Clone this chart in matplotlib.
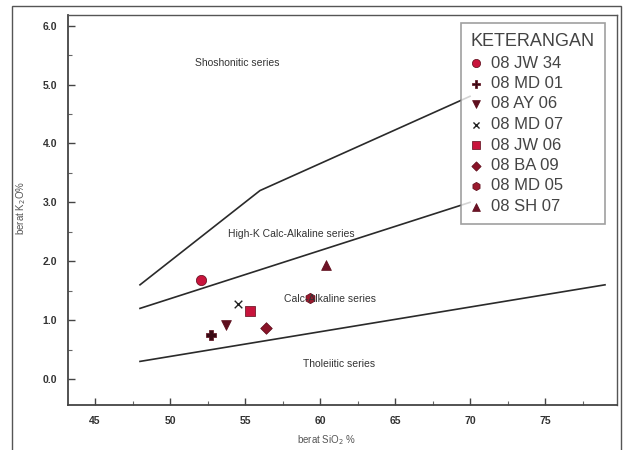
import matplotlib
matplotlib.use("Agg")
import matplotlib.pyplot as plt
from matplotlib.patches import Rectangle

plt.rcParams['font.family'] = ['Liberation Sans', 'DejaVu Sans']

# Boundary lines (Peccerillo & Taylor style)
sho_x = [48, 56, 70]
sho_y = [1.6, 3.2, 4.8]
hk_x = [48, 70]
hk_y = [1.2, 3.0]
th_x = [48, 79]
th_y = [0.3, 1.6]

# Samples
names = ["08 JW 34", "08 MD 01", "08 AY 06", "08 MD 07",
         "08 JW 06", "08 BA 09", "08 MD 05", "08 SH 07"]
sio2 = [52.05, 52.7, 53.75, 54.5, 55.35, 56.4, 59.35, 60.4]
k2o = [1.68, 0.75, 0.92, 1.28, 1.15, 0.87, 1.37, 1.93]
markers = ["o", "P", "v", "x", "s", "D", "h", "^"]
colors = ["#c8143c", "#3a0a14", "#5e0f1e", "#222222",
          "#c8143c", "#8a1328", "#9a1a2e", "#6e1226"]
sizes = [55, 50, 50, 30, 55, 35, 55, 50]

series_labels = ["Shoshonitic series", "High-K Calc-Alkaline series",
                 "Calc-Alkaline series", "Tholeiitic series"]
label_x = [54.5, 58.1, 60.7, 61.3]
label_y = [5.36, 2.47, 1.36, 0.25]

fig = plt.figure(figsize=(6.23, 4.5), dpi=100)
W, H = 623, 450
# outer frame
fig.patches.append(Rectangle((12 / W, -0.05), 609 / W, 1.05 - 6 / H,
                             transform=fig.transFigure, fill=False,
                             edgecolor="#555555", linewidth=1.0))

ax = fig.add_axes([68 / W, 45 / H, 549 / W, 390 / H])
ax.set_xlim(43.2, 79.8)
ax.set_ylim(-0.44, 6.18)

lc = "#2a2a2a"
ax.plot(sho_x, sho_y, color=lc, lw=1.2)
ax.plot(hk_x, hk_y, color=lc, lw=1.2)
ax.plot(th_x, th_y, color=lc, lw=1.2)

for n, x, y, m, c, s in zip(names, sio2, k2o, markers, colors, sizes):
    if m == "x":
        ax.scatter([x], [y], marker=m, color=c, s=s, linewidths=1.0,
                   label=n, zorder=3)
    else:
        ax.scatter([x], [y], marker=m, color=c, s=s, edgecolors="#5a0a18",
                   linewidths=0.5, label=n, zorder=3)

for t, x, y in zip(series_labels, label_x, label_y):
    ax.text(x, y, t, ha="center", va="center", fontsize=7.5, color="#333333")

ax.set_xticks([45, 50, 55, 60, 65, 70, 75])
ax.set_xticks([47.5, 52.5, 57.5, 62.5, 67.5, 72.5, 77.5], minor=True)
ax.set_yticks([0, 1, 2, 3, 4, 5, 6])
ax.set_yticks([0.5, 1.5, 2.5, 3.5, 4.5, 5.5], minor=True)
ax.set_yticklabels([f"{v:.1f}" for v in [0, 1, 2, 3, 4, 5, 6]])
ax.tick_params(which="major", direction="in", length=5, width=1.0,
               color="#444444", labelsize=7.5, labelcolor="#333333", pad=8)
ax.tick_params(which="minor", direction="in", length=3, width=0.8,
               color="#666666")
for lab in ax.get_xticklabels() + ax.get_yticklabels():
    lab.set_fontweight("bold")

for sp in ["left", "bottom"]:
    ax.spines[sp].set_linewidth(1.3)
    ax.spines[sp].set_color("#444444")
for sp in ["top", "right"]:
    ax.spines[sp].set_linewidth(1.0)
    ax.spines[sp].set_color("#555555")

fig.text(21 / W, 1 - 208 / H, "berat K$_2$O%", rotation=90, ha="center",
         va="center", fontsize=7, color="#555555")
fig.text(327 / W, 1 - 440 / H, "berat SiO$_2$ %", ha="center",
         va="center", fontsize=7, color="#555555")

leg = ax.legend(title="KETERANGAN", loc="upper left",
                bbox_to_anchor=((461 - 68) / 549, 1 - (23 - 15) / 390),
                fontsize=12, title_fontsize=13, frameon=True, fancybox=False,
                edgecolor="#888888", handlelength=0.6, handletextpad=0.6,
                labelspacing=0.33, borderpad=0.6, borderaxespad=0,
                scatterpoints=1, markerscale=0.8, alignment="left")
leg.get_frame().set_linewidth(1.2)
for t in leg.get_texts():
    t.set_color("#444444")
leg.get_title().set_color("#444444")

fig.savefig("out.png", dpi=100)
